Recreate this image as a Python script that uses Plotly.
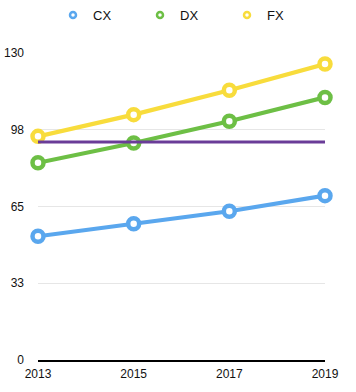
import plotly.graph_objects as go

years = [2013, 2015, 2017, 2019]
cx = [52.4, 57.7, 63.0, 69.6]
dx = [83.5, 91.9, 101.1, 111.2]
fx = [94.7, 103.9, 114.2, 125.3]
ref_value = 92.3
y_ticks = [0, 32.5, 65, 97.5, 130]
y_labels = ["0", "33", "65", "98", "130"]
x_ticks = [2013, 2015, 2017, 2019]

series = [("CX", cx, "#5AA7EE"), ("DX", dx, "#6DBF45"), ("FX", fx, "#F8DC3C")]

fig = go.Figure()
for name, vals, col in series:
    fig.add_trace(go.Scatter(
        x=years, y=vals, name=name, mode="lines+markers",
        line=dict(color=col, width=4.2),
        marker=dict(symbol="circle", size=11, color="white",
                    line=dict(color=col, width=4.5)),
        cliponaxis=False, showlegend=False,
    ))

fig.add_trace(go.Scatter(
    x=[years[0], years[-1]], y=[ref_value, ref_value], mode="lines",
    line=dict(color="#6A3C98", width=3), showlegend=False,
    hoverinfo="skip", cliponaxis=False,
))

# legend entries (marker only)
for name, vals, col in series:
    fig.add_trace(go.Scatter(
        x=[None], y=[None], name=name, mode="markers",
        marker=dict(symbol="circle", size=6, color="white",
                    line=dict(color=col, width=2.5)),
    ))

W, H = 356, 392
fig.update_layout(
    width=W, height=H,
    margin=dict(l=38, r=31, t=53, b=32, autoexpand=False),
    paper_bgcolor="white", plot_bgcolor="white",
    font=dict(family="Liberation Sans, Arial, sans-serif", size=12, color="#111"),
    showlegend=True,
    legend=dict(orientation="h", x=53 / W, xanchor="left", xref="container",
                y=1, yanchor="top", yref="container",
                font=dict(size=13), traceorder="normal", itemwidth=30,
                entrywidthmode="pixels", entrywidth=42, bgcolor="rgba(0,0,0,0)"),
    xaxis=dict(range=[2013, 2019], tickvals=x_ticks, showgrid=False, zeroline=False,
               showline=True, linecolor="black", linewidth=1.5, ticks="",
               ticklabelstandoff=2, tickfont=dict(size=12), automargin=False),
    yaxis=dict(range=[0, 130], tickvals=y_ticks, ticktext=y_labels, showgrid=True,
               gridcolor="#E6E6E6", gridwidth=1, zeroline=False, showline=False,
               ticks="", ticklabelstandoff=13, tickfont=dict(size=12), automargin=False),
)

fig.write_html("out.html", config={"displayModeBar": False},
               post_script="document.body.style.margin='0';document.body.style.overflow='hidden';")
